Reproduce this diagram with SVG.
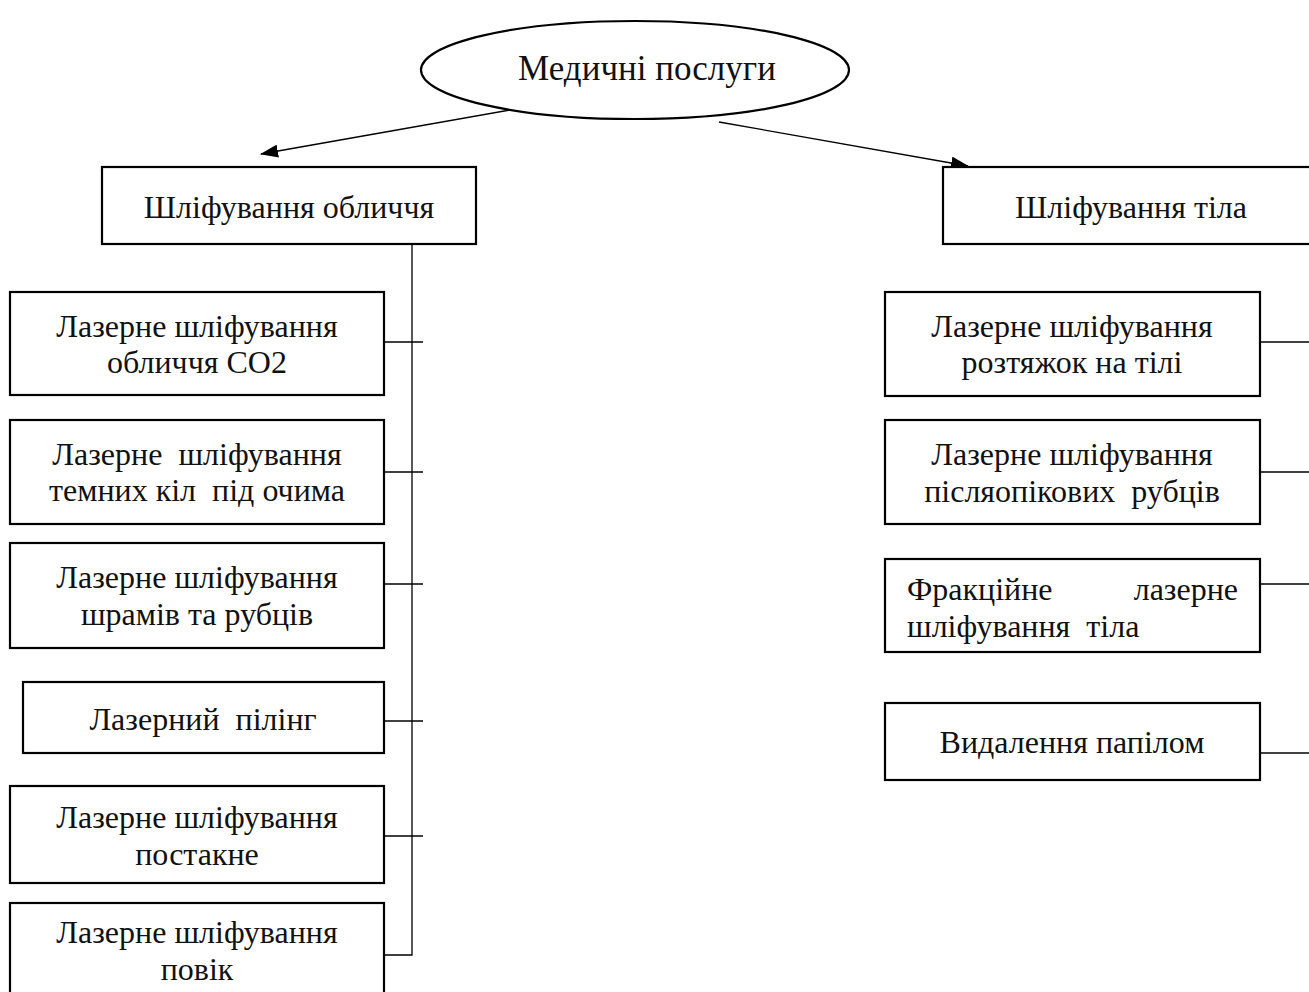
<svg xmlns="http://www.w3.org/2000/svg" width="1309" height="992" viewBox="0 0 1309 992">
<style>
.box{fill:#fff;stroke:#000;stroke-width:2.2}
.t{font-family:"Liberation Serif","Times New Roman",serif;font-size:32px;fill:#111;text-anchor:middle;white-space:pre}
.big{font-size:35px}
.ts{text-anchor:start}
.te{text-anchor:end}
.c{stroke:#000;stroke-width:1.3;fill:none}
</style>
<defs>
<marker id="ah" viewBox="0 0 18 13" refX="17" refY="6.5" markerWidth="18" markerHeight="13" markerUnits="userSpaceOnUse" orient="auto">
<path d="M0,0 L18,6.5 L0,13 Z" fill="#000"/>
</marker>
</defs>
<g id="connectors">
<line class="c" x1="527" y1="107" x2="261" y2="154" marker-end="url(#ah)"/>
<line class="c" x1="719" y1="122" x2="968" y2="166" marker-end="url(#ah)"/>
<polyline class="c" points="412,244 412,955 384,955"/>
<line class="c" x1="384" y1="342" x2="423" y2="342"/>
<line class="c" x1="384" y1="472" x2="423" y2="472"/>
<line class="c" x1="384" y1="584" x2="423" y2="584"/>
<line class="c" x1="384" y1="721" x2="423" y2="721"/>
<line class="c" x1="384" y1="836" x2="423" y2="836"/>
<line class="c" x1="1260" y1="342" x2="1309" y2="342"/>
<line class="c" x1="1260" y1="472" x2="1309" y2="472"/>
<line class="c" x1="1260" y1="584" x2="1309" y2="584"/>
<line class="c" x1="1260" y1="753" x2="1309" y2="753"/>
</g>
<g id="root">
<ellipse cx="635" cy="70" rx="214" ry="49" fill="#fff" stroke="#000" stroke-width="2.2"/>
<text class="t big" x="647" y="80">Медичні послуги</text>
</g>
<g id="face">
<rect class="box" x="102" y="167" width="374" height="77"/>
<text class="t" x="289" y="218">Шліфування обличчя</text>
</g>
<g id="body">
<rect class="box" x="943" y="167" width="380" height="77"/>
<text class="t" x="1131" y="218">Шліфування тіла</text>
</g>
<g id="l1">
<rect class="box" x="10" y="292" width="374" height="103"/>
<text class="t" x="197" y="337">Лазерне шліфування</text>
<text class="t" x="197" y="373">обличчя CO2</text>
</g>
<g id="l2">
<rect class="box" x="10" y="420" width="374" height="104"/>
<text class="t" x="197" y="465">Лазерне  шліфування</text>
<text class="t" x="197" y="501">темних кіл  під очима</text>
</g>
<g id="l3">
<rect class="box" x="10" y="543" width="374" height="105"/>
<text class="t" x="197" y="588">Лазерне шліфування</text>
<text class="t" x="197" y="625">шрамів та рубців</text>
</g>
<g id="l4">
<rect class="box" x="23" y="682" width="361" height="71"/>
<text class="t" x="203" y="730">Лазерний  пілінг</text>
</g>
<g id="l5">
<rect class="box" x="10" y="786" width="374" height="97"/>
<text class="t" x="197" y="828">Лазерне шліфування</text>
<text class="t" x="197" y="865">постакне</text>
</g>
<g id="l6">
<rect class="box" x="10" y="903" width="374" height="100"/>
<text class="t" x="197" y="943">Лазерне шліфування</text>
<text class="t" x="197" y="980">повік</text>
</g>
<g id="r1">
<rect class="box" x="885" y="292" width="375" height="104"/>
<text class="t" x="1072" y="337">Лазерне шліфування</text>
<text class="t" x="1072" y="373">розтяжок на тілі</text>
</g>
<g id="r2">
<rect class="box" x="885" y="420" width="375" height="104"/>
<text class="t" x="1072" y="465">Лазерне шліфування</text>
<text class="t" x="1072" y="502">післяопікових  рубців</text>
</g>
<g id="r3">
<rect class="box" x="885" y="559" width="375" height="93"/>
<text class="t ts" x="907" y="600">Фракційне</text>
<text class="t te" x="1238" y="600">лазерне</text>
<text class="t ts" x="907" y="637">шліфування  тіла</text>
</g>
<g id="r4">
<rect class="box" x="885" y="703" width="375" height="77"/>
<text class="t" x="1072" y="753">Видалення папілом</text>
</g>
</svg>
